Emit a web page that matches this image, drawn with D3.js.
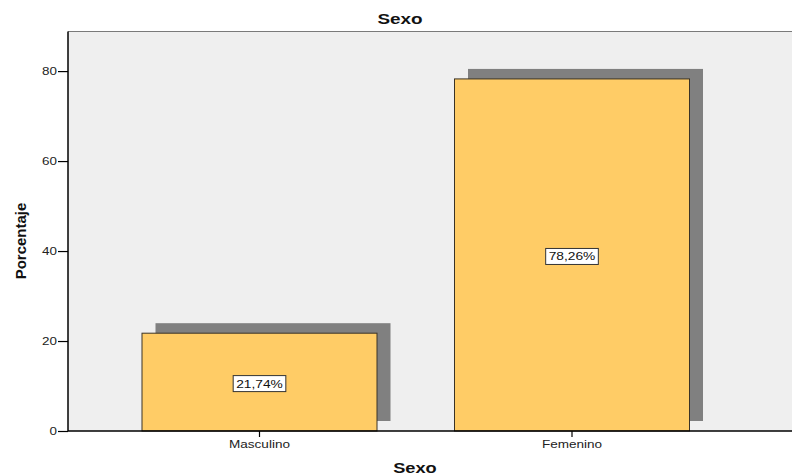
<!DOCTYPE html>
<html><head><meta charset="utf-8">
<script src="https://cdn.jsdelivr.net/npm/d3@7"></script>
<style>html,body{margin:0;padding:0;background:#fff;}svg{display:block;font-family:"Liberation Sans",Arial,sans-serif;}</style>
</head><body>
<svg id="c" width="792" height="474"></svg>
<script>
const categories = ["Masculino", "Femenino"];
const values = [21.74, 78.26];
const valueLabels = ["21,74%", "78,26%"];
const yTicks = [0, 20, 40, 60, 80];
const chartTitle = "Sexo";
const xTitle = "Sexo";
const yTitle = "Porcentaje";

(function(){
const svg = d3.select("#c");
const pLeft = 68, pTop = 31.5, pBottom = 431, pRight = 800;
const y = d3.scaleLinear().domain([0, 88.8]).range([pBottom, pTop]);
const x = d3.scaleBand().domain(categories).range([pLeft, 763.5]).paddingInner(0.248).paddingOuter(0.2368);
const stretch = 1.25;
function widen(sel, k) {
  sel.each(function(){ const l = this.getComputedTextLength(); d3.select(this).attr("textLength", l * k).attr("lengthAdjust", "spacingAndGlyphs"); });
}

// plot background
svg.append("rect").attr("x", pLeft).attr("y", pTop).attr("width", pRight - pLeft).attr("height", pBottom - pTop).attr("fill", "#efefef");
svg.append("line").attr("x1", pLeft).attr("x2", pRight).attr("y1", pTop).attr("y2", pTop).attr("stroke", "#7a7a7a").attr("stroke-width", 1.2);

const sdx = 13.5, sdy = -10;
// shadows
svg.selectAll("rect.shadow").data(values).join("rect").attr("class", "shadow")
  .attr("x", (d, i) => x(categories[i]) + sdx)
  .attr("y", d => y(d) + sdy)
  .attr("width", x.bandwidth())
  .attr("height", d => y(0) - y(d))
  .attr("fill", "#808080");
// bars
svg.selectAll("rect.bar").data(values).join("rect").attr("class", "bar")
  .attr("x", (d, i) => x(categories[i]))
  .attr("y", d => y(d))
  .attr("width", x.bandwidth())
  .attr("height", d => y(0) - y(d))
  .attr("fill", "#ffcc66").attr("stroke", "#3a3326").attr("stroke-width", 1);

// value labels
values.forEach((v, i) => {
  const cx = x(categories[i]) + x.bandwidth() / 2;
  const cy = (y(v) + y(0)) / 2 + 1.5;
  const g = svg.append("g");
  const box = g.append("rect").attr("fill", "#fff").attr("stroke", "#333").attr("stroke-width", 1);
  const t = g.append("text").attr("x", cx).attr("y", cy + 4).attr("text-anchor", "middle").attr("font-size", 11).attr("fill", "#111").text(valueLabels[i]);
  const w = t.node().getComputedTextLength() * stretch;
  widen(t, stretch);
  box.attr("x", cx - w / 2 - 3).attr("y", cy - 8).attr("width", w + 6).attr("height", 16);
});

// y axis
const yAxis = svg.append("g").attr("transform", `translate(${pLeft},0)`)
  .call(d3.axisLeft(y).tickValues(yTicks).tickSize(10).tickPadding(1).tickSizeOuter(0));
yAxis.select(".domain").remove();
yAxis.selectAll(".tick line").attr("stroke", "#000").attr("stroke-width", 1.2);
yAxis.selectAll(".tick text").attr("font-size", 11).attr("fill", "#222").attr("font-family", "Liberation Sans, Arial, sans-serif").call(widen, 1.22);
svg.append("line").attr("x1", pLeft).attr("x2", pLeft).attr("y1", pTop).attr("y2", pBottom).attr("stroke", "#000").attr("stroke-width", 1.5);

// x axis
const xAxis = svg.append("g").attr("transform", `translate(0,${pBottom})`)
  .call(d3.axisBottom(x).tickSize(6).tickPadding(3).tickSizeOuter(0));
xAxis.select(".domain").remove();
xAxis.selectAll(".tick line").attr("stroke", "#000").attr("stroke-width", 1.2);
xAxis.selectAll(".tick text").attr("font-size", 11).attr("fill", "#222").attr("font-family", "Liberation Sans, Arial, sans-serif").call(widen, 1.23);
svg.append("line").attr("x1", pLeft).attr("x2", pRight).attr("y1", pBottom).attr("y2", pBottom).attr("stroke", "#000").attr("stroke-width", 1.5);

// titles
svg.append("text").attr("x", 400).attr("y", 23.5).attr("text-anchor", "middle").attr("font-size", 14).attr("font-weight", "bold").attr("fill", "#111").text(chartTitle).call(widen, 1.35);
svg.append("text").attr("x", 415).attr("y", 472.5).attr("text-anchor", "middle").attr("font-size", 14).attr("font-weight", "bold").attr("fill", "#111").text(xTitle).call(widen, 1.3);
svg.append("text").attr("transform", "translate(26,241) rotate(-90)").attr("text-anchor", "middle").attr("font-size", 14).attr("font-weight", "bold").attr("fill", "#111").text(yTitle).call(widen, 1.07);
})();
</script>
</body></html>
